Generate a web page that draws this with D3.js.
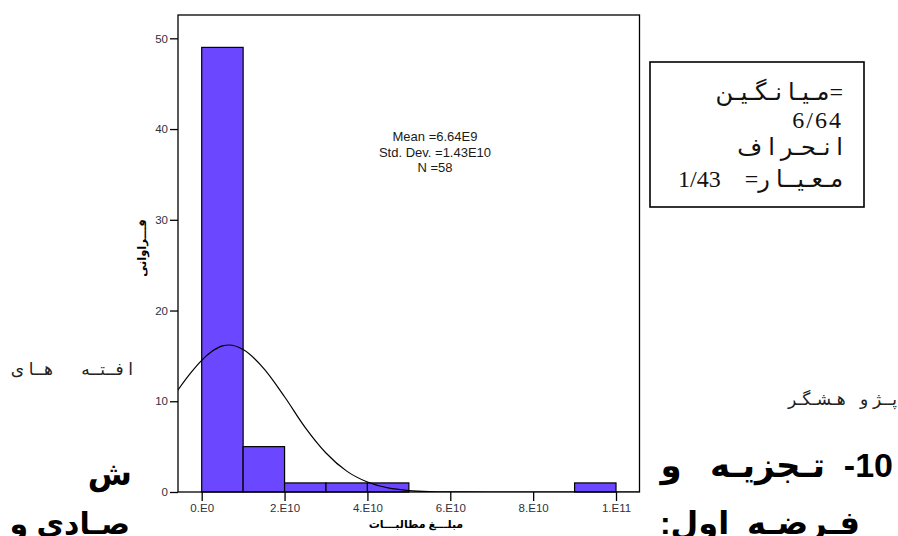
<!DOCTYPE html>
<html lang="fa">
<head>
  <meta charset="UTF-8" />
  <title>هیستوگرام مبلغ مطالبات</title>
  <script src="https://d3js.org/d3.v7.min.js"></script>
  <style>
    body {
      margin: 0;
      background: #fff;
    }
    svg {
      display: block;
      font-family: "Liberation Sans", Arial, "DejaVu Sans", sans-serif;
    }
    svg text {
      white-space: pre;
    }
    .tick text {
      font-size: 11.5px;
      fill: #2e3040;
    }
    .tick line {
      stroke: #000;
      stroke-width: 1.3px;
    }
    .stats {
      font-size: 13px;
      fill: #1a1a1a;
    }
    .doc {
      fill: #222;
    }
    .doc-bold {
      fill: #000;
      font-weight: bold;
    }
    .box-text {
      font-family: "Liberation Serif", "Times New Roman", "DejaVu Sans", serif;
      font-size: 24px;
      fill: #111;
    }
  </style>
</head>
<body>
  <svg id="chart"></svg>

  <script>
    // histogram bins (lower edge, width 1E10) and counts
    const binStart  = [0, 1e10, 2e10, 3e10, 4e10, 9e10];
    const binCounts = [49, 5, 1, 1, 1, 1];
    const binWidth  = 1e10;

    // normal curve
    const curveX = [-0.58e10, -0.25e10, 0, 0.25e10, 0.5e10, 0.66e10, 1e10, 1.5e10, 2e10, 2.5e10,
                    3e10, 3.5e10, 4e10, 4.5e10, 5e10, 5.5e10, 6e10, 7e10, 8e10, 9e10, 10e10, 10.6e10];
    const curveY = [11.2, 13.2, 14.5, 15.5, 16.1, 16.2, 15.7, 13.6, 10.5, 7.1,
                    4.3, 2.3, 1.1, 0.45, 0.16, 0.05, 0.02, 0, 0, 0, 0, 0];

    const xTicks = [0, 2e10, 4e10, 6e10, 8e10, 1e11];
    const xTickLabels = ["0.E0", "2.E10", "4.E10", "6.E10", "8.E10", "1.E11"];
    const yTicks = [0, 10, 20, 30, 40, 50];

    const statLines = ["Mean =6.64E9", "Std. Dev. =1.43E10", "N =58"];
    const xTitle = "مبلـــغ مطالبـــات";
    const yTitle = "فـــراوانی";

    const W = 898, H = 536;
    const plot = { left: 178, top: 15, right: 639.5, bottom: 492 };

    const svg = d3.select("#chart")
      .attr("width", W)
      .attr("height", H);

    const x = d3.scaleLinear()
      .domain([-0.572e10, 10.567e10])
      .range([plot.left, plot.right]);

    const y = d3.scaleLinear()
      .domain([0, 52.57])
      .range([plot.bottom, plot.top]);

    svg.append("clipPath")
      .attr("id", "plotClip")
      .append("rect")
        .attr("x", plot.left)
        .attr("y", plot.top)
        .attr("width", plot.right - plot.left)
        .attr("height", plot.bottom - plot.top);

    // bars
    svg.append("g")
      .selectAll("rect")
      .data(binStart)
      .join("rect")
        .attr("x", d => x(d))
        .attr("y", (d, i) => y(binCounts[i]))
        .attr("width", d => x(d + binWidth) - x(d))
        .attr("height", (d, i) => y(0) - y(binCounts[i]))
        .attr("fill", "#6b47ff")
        .attr("stroke", "#000")
        .attr("stroke-width", 1.2);

    // normal curve
    const line = d3.line()
      .x(d => x(d[0]))
      .y(d => y(d[1]))
      .curve(d3.curveMonotoneX);

    svg.append("path")
      .datum(d3.zip(curveX, curveY))
      .attr("clip-path", "url(#plotClip)")
      .attr("fill", "none")
      .attr("stroke", "#000")
      .attr("stroke-width", 1.2)
      .attr("d", line);

    // frame
    svg.append("rect")
      .attr("x", plot.left)
      .attr("y", plot.top)
      .attr("width", plot.right - plot.left)
      .attr("height", plot.bottom - plot.top)
      .attr("fill", "none")
      .attr("stroke", "#000")
      .attr("stroke-width", 1.3);

    // axes
    const yAxis = svg.append("g")
      .attr("transform", `translate(${plot.left},0)`)
      .call(d3.axisLeft(y).tickValues(yTicks).tickSize(8).tickPadding(2));
    yAxis.select(".domain").remove();

    const xAxis = svg.append("g")
      .attr("transform", `translate(0,${plot.bottom})`)
      .call(d3.axisBottom(x).tickValues(xTicks).tickSize(9).tickPadding(3)
        .tickFormat((d, i) => xTickLabels[i]));
    xAxis.select(".domain").remove();

    svg.append("text")
      .attr("x", 416)
      .attr("y", 528)
      .attr("text-anchor", "middle")
      .attr("direction", "rtl")
      .attr("font-size", 11)
      .attr("font-weight", "bold")
      .text(xTitle);

    svg.append("text")
      .attr("transform", "translate(146,248) rotate(-90)")
      .attr("text-anchor", "middle")
      .attr("direction", "rtl")
      .attr("font-size", 11.5)
      .attr("font-weight", "bold")
      .text(yTitle);

    // statistics
    svg.append("g")
      .selectAll("text")
      .data(statLines)
      .join("text")
        .attr("class", "stats")
        .attr("x", 435)
        .attr("y", (d, i) => 141 + i * 15.5)
        .attr("text-anchor", "middle")
        .text(d => d);

    // surrounding document text that overlaps the figure
    const docText = [
      { t: "ا فــتــه      هــا ی", x: 133, y: 375, size: 17, cls: "doc" },
      { t: "پــژ و   هـشـگـر", x: 897, y: 405, size: 17, cls: "doc" },
      { t: "10-  تـجزیـه   و", x: 893, y: 477, size: 34, cls: "doc-bold" },
      { t: "ش", x: 132, y: 485, size: 32, cls: "doc-bold" },
      { t: "فـرضـه  اول:", x: 860, y: 534, size: 32, cls: "doc-bold" },
      { t: "صـادی و", x: 130, y: 534, size: 30, cls: "doc-bold" }
    ];
    svg.append("g")
      .selectAll("text")
      .data(docText)
      .join("text")
        .attr("class", d => d.cls)
        .attr("x", d => d.x)
        .attr("y", d => d.y)
        .attr("font-size", d => d.size)
        .attr("direction", "rtl")
        .attr("text-anchor", "start")
        .text(d => d.t);

    // boxed summary from the document
    svg.append("rect")
      .attr("x", 650)
      .attr("y", 62)
      .attr("width", 214)
      .attr("height", 145)
      .attr("fill", "#fff")
      .attr("stroke", "#000")
      .attr("stroke-width", 1.6);

    // box lines are laid out left-to-right, right edge at the anchor
    const boxLines = [
      { t: "مـیـا نـگـیـن=", y: 100, spacing: 0 },
      { t: "6/64", y: 128, spacing: 2 },
      { t: "ا نـحـر ا ف", y: 155, spacing: 0 },
      { t: "1/43    =مـعـیــا ر", y: 187, spacing: 0 }
    ];
    svg.append("g")
      .selectAll("text")
      .data(boxLines)
      .join("text")
        .attr("class", "box-text")
        .attr("x", 843)
        .attr("y", d => d.y)
        .attr("direction", "ltr")
        .attr("letter-spacing", d => d.spacing)
        .attr("text-anchor", "end")
        .text(d => d.t);
  </script>
</body>
</html>
